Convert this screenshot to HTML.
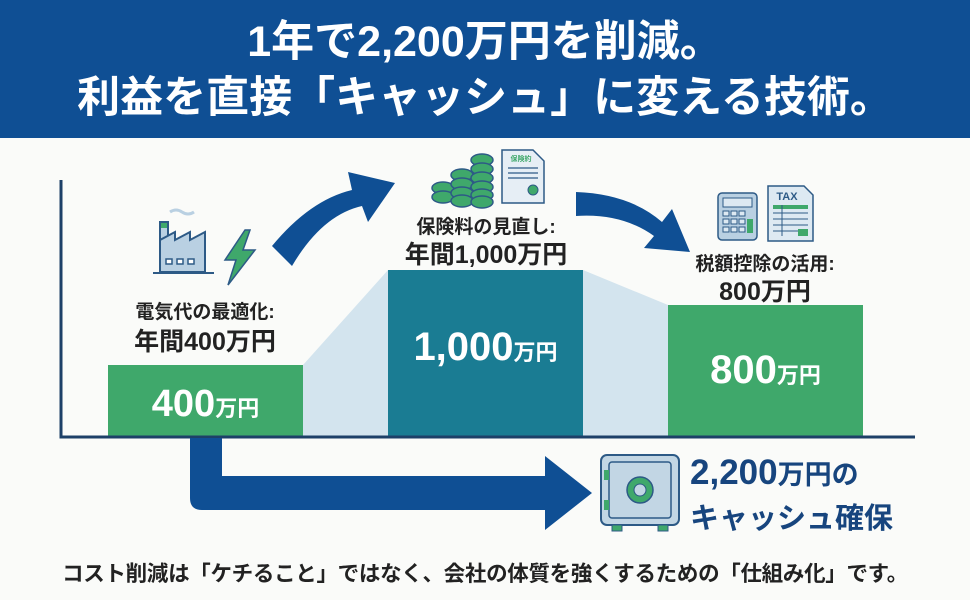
<!DOCTYPE html>
<html><head><meta charset="utf-8"><style>
body{margin:0;width:970px;height:600px;overflow:hidden;background:#fafbf9;font-family:"Liberation Sans","Noto Sans CJK JP",sans-serif;font-weight:700;position:relative}
.t{position:absolute;white-space:nowrap;text-align:center}
</style></head><body>
<div style="position:absolute;left:0;top:0;width:970px;height:138px;background:#0f4f94"></div>
<div class="t" style="left:0;width:970px;top:14px;font-size:43px;color:#fff;line-height:56px">1年で2,200万円を削減。<br>利益を直接「キャッシュ」に変える技術。</div>
<svg width="970" height="600" style="position:absolute;left:0;top:0">
<polygon points="303,365 388,270 388,437 303,437" fill="#d3e4ee"/>
<polygon points="583,270 668,305 668,437 583,437" fill="#d3e4ee"/>
<rect x="108" y="365" width="195" height="72" fill="#3fa86b"/>
<rect x="388" y="270" width="195" height="167" fill="#1a7c93"/>
<rect x="668" y="305" width="195" height="132" fill="#3fa86b"/>
<path d="M61,180 V437 H915" fill="none" stroke="#1d4068" stroke-width="3"/>
<path d="M190,438 V498 Q190,510 202,510 H545 V530 L592,493 L545,456 V476 H222 V438 Z" fill="#0f4f94"/>
<path d="M272,246 Q310,200 352,190 L348,172 L395,183 L368,222 L362,206 Q322,215 292,266 Z" fill="#0f4f94"/>
<path d="M576,192 Q630,194 662,222 L672,209 L690,252 L644,248 L654,236 Q622,213 576,216 Z" fill="#0f4f94"/>
<g stroke="#2d5a86" stroke-width="2" fill="#b9d0e2">
<rect x="160" y="222" width="8" height="30"/>
<path d="M160,252 V240 L175,232 V240 L190,232 V240 L205,232 V272 H160 Z"/>
<line x1="153" y1="273" x2="214" y2="273"/>
</g>
<rect x="161" y="223" width="6" height="5" fill="#3fa86b"/>
<g fill="#fff" stroke="#2d5a86" stroke-width="1.5"><rect x="166" y="259" width="6" height="5"/><rect x="177" y="259" width="6" height="5"/><rect x="188" y="259" width="6" height="5"/></g>
<path d="M170,212 q6,-4 12,0 q6,4 12,0" stroke="#b9d0e2" stroke-width="3" fill="none"/>
<polygon points="245,230 225,260 236,260 228,285 255,250 243,250 250,230" fill="#3fa86b" stroke="#2d5a86" stroke-width="1.5"/>
<g fill="#3fa86b" stroke="#2d5a86" stroke-width="1.5">
<ellipse cx="443" cy="188" rx="11" ry="6"/><ellipse cx="443" cy="197" rx="11" ry="6"/>
<ellipse cx="462" cy="175" rx="11" ry="6"/><ellipse cx="462" cy="184" rx="11" ry="6"/><ellipse cx="462" cy="193" rx="11" ry="6"/><ellipse cx="462" cy="201" rx="11" ry="6"/>
<ellipse cx="482" cy="160" rx="11" ry="6"/><ellipse cx="482" cy="169" rx="11" ry="6"/><ellipse cx="482" cy="178" rx="11" ry="6"/><ellipse cx="482" cy="187" rx="11" ry="6"/><ellipse cx="482" cy="195" rx="11" ry="6"/><ellipse cx="482" cy="202" rx="11" ry="6"/>
</g>
<path d="M502,150 H533 L544,161 V203 H502 Z" fill="#e6eef5" stroke="#2d5a86" stroke-width="1.5"/>
<text x="521" y="161" font-size="7" fill="#3fa86b" text-anchor="middle">保険約</text>
<g stroke="#2d5a86" stroke-width="1.2"><line x1="508" y1="168" x2="538" y2="168"/><line x1="508" y1="173" x2="538" y2="173"/><line x1="508" y1="178" x2="538" y2="178"/></g>
<circle cx="533" cy="190" r="5" fill="#3fa86b" stroke="#2d5a86"/>
<rect x="718" y="193" width="39" height="47" rx="4" fill="#b9d0e2" stroke="#2d5a86" stroke-width="1.5"/>
<rect x="723" y="198" width="29" height="9" fill="#dde9f2" stroke="#2d5a86"/>
<g fill="#dde9f2" stroke="#2d5a86"><rect x="723" y="211" width="6" height="5"/><rect x="731" y="211" width="6" height="5"/><rect x="739" y="211" width="6" height="5"/><rect x="723" y="219" width="6" height="5"/><rect x="731" y="219" width="6" height="5"/><rect x="739" y="219" width="6" height="5"/><rect x="723" y="227" width="6" height="5"/><rect x="731" y="227" width="6" height="5"/><rect x="739" y="227" width="6" height="5"/></g>
<rect x="747" y="219" width="6" height="14" fill="#3fa86b"/>
<path d="M768,186 H804 L813,195 V241 H768 Z" fill="#dde9f2" stroke="#2d5a86" stroke-width="1.5"/>
<text x="787" y="200" font-size="11" fill="#2d5a86" text-anchor="middle" font-weight="700">TAX</text>
<rect x="773" y="205" width="35" height="4" fill="#3fa86b"/>
<g stroke="#2d5a86" stroke-width="1"><line x1="773" y1="213" x2="808" y2="213"/><line x1="773" y1="219" x2="808" y2="219"/><line x1="773" y1="225" x2="808" y2="225"/><line x1="773" y1="231" x2="808" y2="231"/><line x1="782" y1="205" x2="782" y2="236"/></g>
<rect x="798" y="229" width="10" height="7" fill="#3fa86b"/>
<rect x="601" y="455" width="78" height="70" rx="6" fill="#c2d6e4" stroke="#2d5a86" stroke-width="2"/>
<rect x="609" y="462" width="62" height="56" rx="3" fill="none" stroke="#2d5a86" stroke-width="1.5"/>
<circle cx="640" cy="490" r="13" fill="#3fa86b" stroke="#2d5a86" stroke-width="1.5"/>
<circle cx="640" cy="490" r="6" fill="#c2d6e4" stroke="#2d5a86"/>
<rect x="604" y="470" width="5" height="10" fill="#3fa86b"/><rect x="604" y="500" width="5" height="10" fill="#3fa86b"/>
<rect x="612" y="525" width="10" height="6" fill="#3fa86b" stroke="#2d5a86"/><rect x="658" y="525" width="10" height="6" fill="#3fa86b" stroke="#2d5a86"/>
</svg>
<div class="t" style="left:105px;width:200px;top:297px;font-size:19px;color:#222">電気代の最適化:</div>
<div class="t" style="left:105px;width:200px;top:322px;font-size:25px;color:#222">年間400万円</div>
<div class="t" style="left:108px;width:195px;top:383px;font-size:38px;color:#fff">400<span style="font-size:22px">万円</span></div>
<div class="t" style="left:386px;width:200px;top:212px;font-size:19px;color:#222">保険料の見直し:</div>
<div class="t" style="left:386px;width:200px;top:235px;font-size:25px;color:#222">年間1,000万円</div>
<div class="t" style="left:388px;width:195px;top:325px;font-size:40px;color:#fff">1,000<span style="font-size:22px">万円</span></div>
<div class="t" style="left:665px;width:200px;top:249px;font-size:19px;color:#222">税額控除の活用:</div>
<div class="t" style="left:665px;width:200px;top:272px;font-size:25px;color:#222">800万円</div>
<div class="t" style="left:668px;width:195px;top:348px;font-size:40px;color:#fff">800<span style="font-size:22px">万円</span></div>
<div class="t" style="left:690px;top:452px;font-size:35px;color:#17457e;text-align:left;line-height:42px">2,200<span style="font-size:27px">万円の</span><br><span style="font-size:29px">キャッシュ確保</span></div>
<div class="t" style="left:0;width:970px;top:557px;font-size:21.5px;color:#222;letter-spacing:-0.3px">コスト削減は「ケチること」ではなく、会社の体質を強くするための「仕組み化」です。</div>
</body></html>
